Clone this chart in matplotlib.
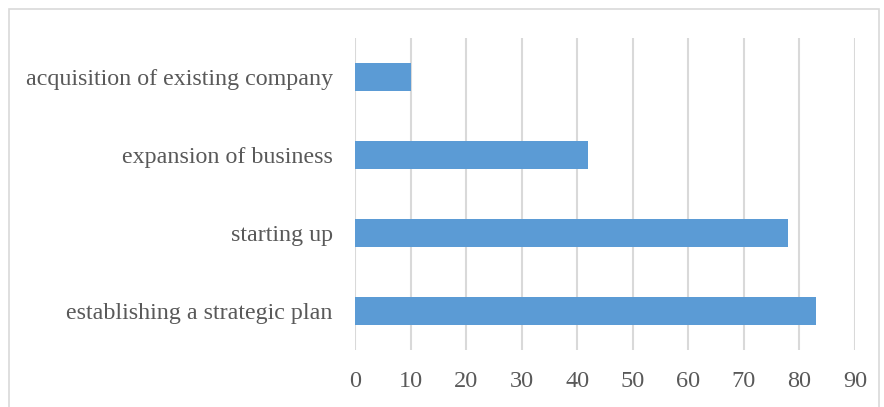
import matplotlib
matplotlib.use("Agg")
import matplotlib.pyplot as plt
from matplotlib.patches import Rectangle

# purposes, bottom to top
purposes = [
    "establishing a strategic plan",
    "starting up",
    "expansion of business",
    "acquisition of existing company",
]
counts = [83, 78, 42, 10]
x_ticks = [0, 10, 20, 30, 40, 50, 60, 70, 80, 90]

plt.rcParams["font.family"] = ["Liberation Serif", "DejaVu Serif"]

fig = plt.figure(figsize=(8.84, 4.07), dpi=100)
ax = fig.add_axes([355 / 884, 57 / 407, 500 / 884, 312 / 407])

# chart frame
fig.patches.append(Rectangle((9 / 884, -0.01), 870 / 884, 398 / 407 + 0.01,
                             transform=fig.transFigure, fill=False,
                             edgecolor="#d9d9d9", linewidth=1.2))

ax.barh(range(len(purposes)), counts, height=0.35, color="#5b9bd5", zorder=3)

ax.set_xlim(0, 90)
ax.set_ylim(-0.5, len(purposes) - 0.5)
ax.set_xticks(x_ticks)
ax.set_yticks(range(len(purposes)))
ax.set_yticklabels(purposes)
ax.xaxis.grid(True, color="#d9d9d9", linewidth=1.5, zorder=0)
ax.tick_params(axis="both", length=0, colors="#595959")
ax.tick_params(axis="x", labelsize=17.5, pad=15)
ax.tick_params(axis="y", labelsize=17.3, pad=16)
for side in ["top", "right", "bottom", "left"]:
    ax.spines[side].set_visible(False)

fig.savefig("out.png", dpi=100)
